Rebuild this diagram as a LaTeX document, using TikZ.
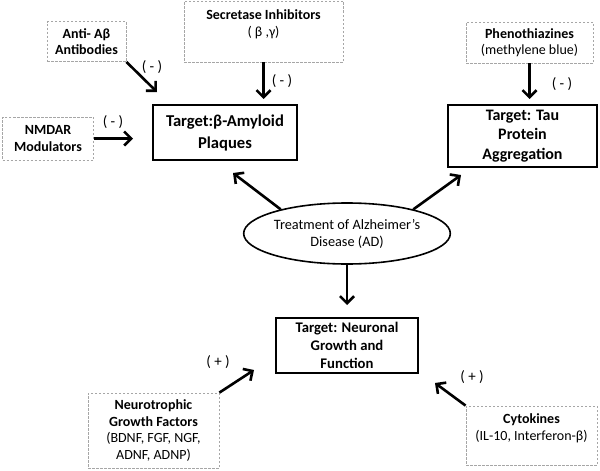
\documentclass[tikz,border=0pt]{standalone}
\usepackage{fontspec}
\setmainfont{Carlito}
\usetikzlibrary{arrows.meta,shapes.geometric}
\begin{document}
\begin{tikzpicture}[x=1pt, y=-1pt,
    agent/.style ={draw=gray!70, dash pattern=on 2.5pt off 1.5pt, line width=0.8pt, align=center, inner sep=0pt, font=\fontsize{14}{16.5}\selectfont},
    target/.style ={draw, line width=2.2pt, align=center, inner sep=0pt, font=\bfseries},
    effect/.style ={font=\fontsize{15}{18}\selectfont},
    link/.style ={line width=2.6pt, -{Straight Barb[length=7pt,width=14pt]}}]
   \useasboundingbox (0,0) rectangle (600,471);

   \node[target, minimum width=144, minimum height=55, font=\fontsize{16.6}{22}\selectfont\bfseries] (A) at (225,132.5) {Target:β-Amyloid\\Plaques};
   \node[target, minimum width=149, minimum height=62, font=\fontsize{16}{19.5}\selectfont\bfseries] (B) at (522.5,136) {Target: Tau\\Protein\\Aggregation};
   \node[target, minimum width=142, minimum height=55, font=\fontsize{14.7}{18}\selectfont\bfseries] (C) at (347,345.5) {Target: Neuronal\\Growth and\\Function};
   \node[ellipse, draw, line width=1.6pt, minimum width=184, minimum height=61, inner sep=0pt, align=center, font=\fontsize{14.3}{17}\selectfont] (D) at (347,233.5) {Treatment of Alzheimer’s\\Disease (AD)};

   \node[agent, minimum width=79, minimum height=40] (E) at (86.5,41.5) {\textbf{Anti- Aβ}\\\textbf{Antibodies}};
   \node[agent, minimum width=159, minimum height=61] (F) at (263.5,31.5) {\textbf{Secretase Inhibitors}\\( β ,γ)\\\mbox{}};
   \node[agent, minimum width=91, minimum height=43] (G) at (48,138.5) {\textbf{NMDAR}\\\textbf{Modulators}};
   \node[agent, minimum width=127, minimum height=41] (H) at (529.5,42.5) {\textbf{Phenothiazines}\\(methylene blue)};
   \node[agent, minimum width=131, minimum height=75] (I) at (153.5,430.5) {\textbf{Neurotrophic}\\\textbf{Growth Factors}\\(BDNF, FGF, NGF,\\ADNF, ADNP)};
   \node[agent, minimum width=131, minimum height=59] (K) at (531.5,435.5) {\textbf{Cytokines}\\(IL-10, Interferon-β)\\\mbox{}};

   % arrow tips
   \coordinate (a1) at (157,92);
   \coordinate (a2) at (263.5,99);
   \coordinate (a3) at (133,138.5);
   \coordinate (a4) at (529.5,99);
   \coordinate (a5) at (233,173);
   \coordinate (a6) at (461,175);
   \coordinate (a7) at (347,305);
   \coordinate (a8) at (254,370);
   \coordinate (a9) at (435,383);

   \draw[link] (E.south east) to (a1);
   \draw[link] (F.south) to (a2);
   \draw[link] (G.east) to (a3);
   \draw[link] (H.south) to (a4);
   \draw[link] (D.160) to (a5);
   \draw[link] (D.20) to (a6);
   \draw[link] (D.south) to (a7);
   \draw[link] (I.north east) to (a8);
   \draw[link] (K.north west) to (a9);

   \node[effect] (L1) at (152,67) {( - )};
   \node[effect] (L2) at (282,81) {( - )};
   \node[effect] (L3) at (113,122) {( - )};
   \node[effect] (L4) at (562,84) {( - )};
   \node[effect] (L5) at (218,362) {( + )};
   \node[effect] (L6) at (472,377) {( + )};

 \end{tikzpicture}
\end{document}
